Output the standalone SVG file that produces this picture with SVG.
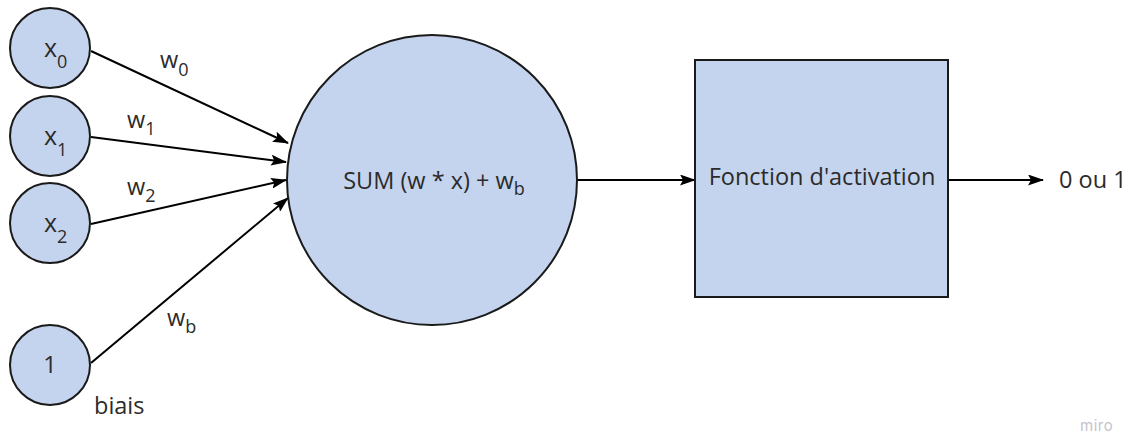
<svg xmlns="http://www.w3.org/2000/svg" width="1134" height="434" viewBox="0 0 1134 434">
<style>
.n{fill:#c5d4ee;stroke:#1a1a1a;stroke-width:2}
.t{font-family:"Open Sans",sans-serif;font-size:23.5px;fill:#2b2b2b}
.x{font-size:25px}
.s{font-size:18px}
.c{stroke:#000;stroke-width:2;fill:none;marker-end:url(#ah)}
</style>
<defs>
<marker id="ah" markerWidth="16" markerHeight="11" refX="15" refY="5.5" orient="auto" markerUnits="userSpaceOnUse" viewBox="0 0 16 11">
<path d="M0,0 L16,5.5 L0,11 L3,5.5 Z" fill="#000"/>
</marker>
</defs>
<g id="connectors">
<line class="c" x1="91" y1="51" x2="288" y2="143"/>
<line class="c" x1="91" y1="137" x2="286" y2="162"/>
<line class="c" x1="91" y1="224" x2="286" y2="180"/>
<line class="c" x1="91" y1="363" x2="288" y2="198"/>
<line class="c" x1="577" y1="180" x2="695" y2="180"/>
<line class="c" x1="949" y1="180" x2="1043" y2="180"/>
<text class="t" x="160" y="68">w<tspan class="s" dy="8">0</tspan></text>
<text class="t" x="127" y="128">w<tspan class="s" dy="7">1</tspan></text>
<text class="t" x="127" y="195">w<tspan class="s" dy="7">2</tspan></text>
<text class="t" x="167" y="326">w<tspan class="s" dy="7">b</tspan></text>
</g>
<g id="x0"><circle class="n" cx="50" cy="48" r="40"/><text class="t x" x="44" y="57">x<tspan class="s" dy="11">0</tspan></text></g>
<g id="x1"><circle class="n" cx="50" cy="136" r="40"/><text class="t x" x="44" y="145">x<tspan class="s" dy="11">1</tspan></text></g>
<g id="x2"><circle class="n" cx="50" cy="223" r="40"/><text class="t x" x="44" y="232">x<tspan class="s" dy="11">2</tspan></text></g>
<g id="bias"><circle class="n" cx="50" cy="365" r="40"/><text class="t" x="50" y="373" text-anchor="middle">1</text><text class="t" x="94" y="414">biais</text></g>
<g id="sum"><circle class="n" cx="432" cy="180" r="145"/><text class="t" x="434" y="189" text-anchor="middle">SUM (w * x) + w<tspan class="s" dy="6">b</tspan></text></g>
<g id="activation"><rect class="n" x="695" y="60" width="253" height="237"/><text class="t" x="822" y="185" text-anchor="middle">Fonction d'activation</text></g>
<g id="output"><text class="t" x="1059" y="188">0 ou 1</text></g>
<text x="1080" y="431" font-family="Inter,sans-serif" font-size="15" fill="#c4c4cc" letter-spacing="0.5">miro</text>
</svg>
